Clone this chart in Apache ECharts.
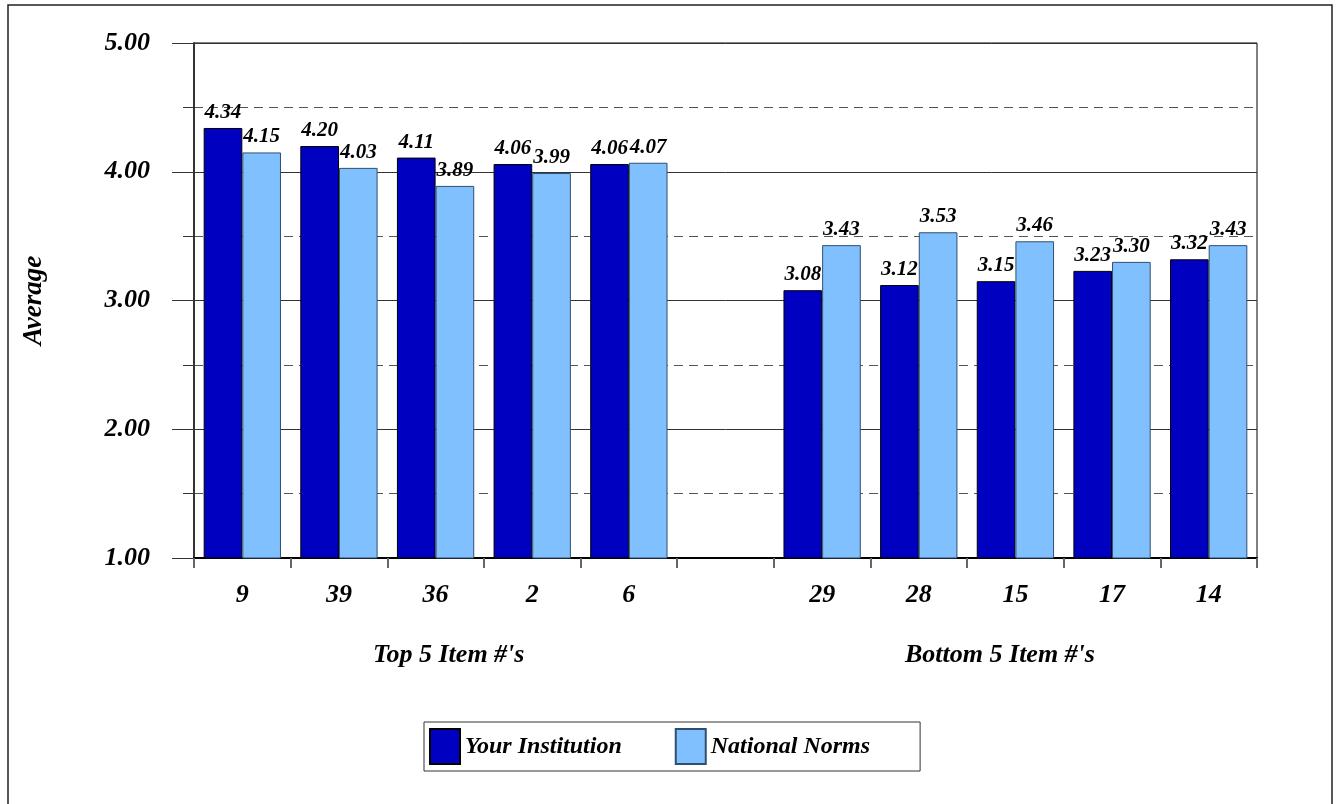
<!DOCTYPE html>
<html>
<head>
<meta charset="utf-8">
<script src="https://cdn.jsdelivr.net/npm/echarts@6/dist/echarts.min.js"></script>
<style>
html,body{margin:0;padding:0;background:#fff;}
#chart{width:1338px;height:804px;}
</style>
</head>
<body>
<div id="chart"></div>
<script>
const categories = ['9', '39', '36', '2', '6', '', '29', '28', '15', '17', '14'];
const yourInstitution = [4.34, 4.20, 4.11, 4.06, 4.06, null, 3.08, 3.12, 3.15, 3.23, 3.32];
const nationalNorms = [4.15, 4.03, 3.89, 3.99, 4.07, null, 3.43, 3.53, 3.46, 3.30, 3.43];
const groupLabels = ["Top 5 Item #'s", "Bottom 5 Item #'s"];
const seriesNames = ['Your Institution', 'National Norms'];

const FONT = '"Liberation Serif", "Times New Roman", serif';
const chart = echarts.init(document.getElementById('chart'));

const labelStyle = {
  show: true,
  position: 'top',
  distance: 5,
  fontFamily: FONT,
  fontStyle: 'italic',
  fontWeight: 'bold',
  fontSize: 21,
  color: '#000',
  formatter: p => p.value == null ? '' : Number(p.value).toFixed(2)
};

chart.setOption({
  animation: false,
  backgroundColor: '#fff',
  grid: {
    left: 194, right: 81, top: 43, bottom: 246,
    show: true, borderColor: '#000', borderWidth: 1, backgroundColor: 'transparent'
  },
  legend: {
    left: 424, top: 722,
    orient: 'horizontal',
    icon: 'rect',
    itemWidth: 30, itemHeight: 35, itemGap: 53,
    padding: [6, 50, 6, 5],
    borderColor: '#333', borderWidth: 1,
    data: seriesNames,
    textStyle: { fontFamily: FONT, fontStyle: 'italic', fontWeight: 'bold', fontSize: 24, color: '#000' }
  },
  xAxis: {
    type: 'category',
    data: categories,
    axisLine: { show: true, lineStyle: { color: '#000', width: 2 } },
    axisTick: { show: true, alignWithLabel: false, length: 10, inside: false, lineStyle: { color: '#666', width: 2 } },
    axisLabel: { margin: 24, fontFamily: FONT, fontStyle: 'italic', fontWeight: 'bold', fontSize: 26, color: '#000', interval: 0 },
    splitLine: { show: false }
  },
  yAxis: {
    type: 'value',
    min: 1, max: 5, interval: 1,
    name: 'Average',
    nameLocation: 'middle',
    nameGap: 146,
    nameRotate: 90,
    nameTextStyle: { fontFamily: FONT, fontStyle: 'italic', fontWeight: 'bold', fontSize: 27, color: '#000' },
    axisLine: { show: true, lineStyle: { color: '#333', width: 2 } },
    axisTick: { show: true, length: 22, lineStyle: { color: '#333', width: 1 } },
    minorTick: { show: true, splitNumber: 2, length: 11, lineStyle: { color: '#333', width: 1 } },
    axisLabel: {
      margin: 44, fontFamily: FONT, fontStyle: 'italic', fontWeight: 'bold', fontSize: 26, color: '#000',
      formatter: v => v.toFixed(2)
    },
    splitLine: { show: true, lineStyle: { color: '#333', width: 1 } },
    minorSplitLine: { show: true, lineStyle: { color: '#555', width: 1, type: [9, 6] } }
  },
  graphic: [
    { type: 'rect', shape: { x: 8, y: 5, width: 1324, height: 810 }, style: { fill: 'none', stroke: '#222', lineWidth: 1.5 }, silent: true, z: -1 },
    { type: 'text', left: 373, top: 642, style: { text: groupLabels[0], font: 'italic bold 26px ' + FONT, fill: '#000' } },
    { type: 'text', left: 905, top: 642, style: { text: groupLabels[1], font: 'italic bold 26px ' + FONT, fill: '#000' } }
  ],
  series: [
    {
      name: seriesNames[0], type: 'bar', data: yourInstitution,
      barWidth: '40%', barGap: '0%',
      itemStyle: { color: '#0000C0', borderColor: '#000', borderWidth: 1 },
      label: labelStyle
    },
    {
      name: seriesNames[1], type: 'bar', data: nationalNorms,
      barWidth: '40%', barGap: '0%',
      itemStyle: { color: '#80C0FF', borderColor: '#2f4f6f', borderWidth: 1 },
      label: labelStyle
    }
  ]
});
</script>
</body>
</html>
